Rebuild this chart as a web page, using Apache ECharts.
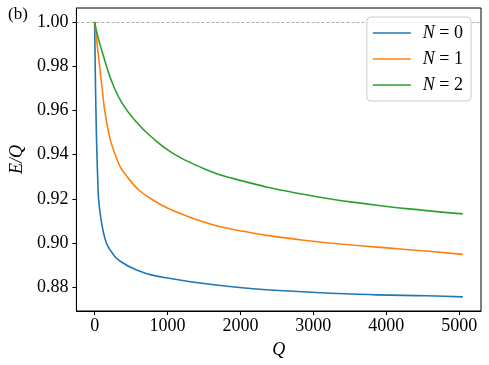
<!DOCTYPE html>
<html>
	<head>
		<meta charset="utf-8" />
		<title>E/Q</title>
		<script src="https://cdn.jsdelivr.net/npm/echarts@6/dist/echarts.min.js"></script>
		<style>
			html, body { margin: 0; padding: 0; background: #fff; }
			#main { width: 489px; height: 365px; }
		</style>
	</head>
	<body>
		<div id="main"></div>
		<script type="text/javascript">
			// values
			var q0 = [0, 8, 18, 31, 45, 59, 104, 140, 181, 240, 318, 568, 977, 1819, 2842, 3870, 4550, 5050];
			var v0 = [1.0, 0.980, 0.960, 0.9407, 0.927, 0.9181, 0.9076, 0.9023, 0.8986, 0.8956, 0.8926, 0.8880, 0.8843, 0.8805, 0.8780, 0.8766, 0.8762, 0.8757];
			var q1 = [0, 30, 65, 100, 159, 273, 477, 795, 1160, 1477, 1819, 2842, 3870, 4550, 5050];
			var v1 = [1.0, 0.991, 0.981, 0.9708, 0.9558, 0.9407, 0.9287, 0.9196, 0.9136, 0.9098, 0.9067, 0.9014, 0.8982, 0.8964, 0.8949];
			var q2 = [0, 45, 113, 168, 250, 377, 546, 772, 1068, 1477, 1819, 2842, 3870, 4550, 5050];
			var v2 = [1.0, 0.9932, 0.9855, 0.9795, 0.9718, 0.9633, 0.9558, 0.9482, 0.9407, 0.9340, 0.9299, 0.9222, 0.9171, 0.9147, 0.9132];
			var xTicks = [0, 1000, 2000, 3000, 4000, 5000];
			var yTicks = [0.88, 0.90, 0.92, 0.94, 0.96, 0.98, 1.00];
			var names = ['N=0', 'N=1', 'N=2'];
			var colors = ['#1f77b4', '#ff7f0e', '#2ca02c'];

			function pairs(q, v) {
				var out = [];
				for (var i = 0; i < q.length; i++) out.push([q[i], v[i]]);
				return out;
			}

			var font = 'Liberation Serif';
			var myChart = echarts.init(document.getElementById('main'));

			var series = [pairs(q0, v0), pairs(q1, v1), pairs(q2, v2)].map(function (d, i) {
				var s = {
					name: names[i],
					type: 'line',
					data: d,
					symbol: 'none',
					smooth: true,
					lineStyle: { color: colors[i], width: 1.6 },
					itemStyle: { color: colors[i] },
					z: 3
				};
				if (i == 0) {
					s.markLine = {
						silent: true,
						symbol: 'none',
						label: { show: false },
						lineStyle: { color: '#999', type: [3, 2], width: 0.8 },
						data: [{ yAxis: 1.0 }],
						z: 1
					};
				}
				return s;
			});

			var option = {
				animation: false,
				textStyle: { fontFamily: font },
				graphic: [{
					type: 'text', left: 8, top: 6,
					style: { text: '(b)', font: '17px "Liberation Serif"', fill: '#000' }
				}],
				grid: {
					left: 74, top: 8, right: 8, bottom: 54,
					show: true, borderColor: '#000', borderWidth: 1,
					backgroundColor: 'transparent'
				},
				legend: {
					orient: 'vertical',
					right: 18, top: 17,
					icon: 'rect',
					itemWidth: 38, itemHeight: 1.6, itemGap: 8,
					padding: [7, 8, 7, 6],
					borderColor: '#ccc', borderWidth: 1, borderRadius: 4,
					backgroundColor: 'rgba(255,255,255,0.8)',
					data: names,
					formatter: function (n) {
						return '{i|N}{n| = ' + n.split('=')[1] + '}';
					},
					textStyle: {
						rich: {
							i: { fontFamily: font, fontStyle: 'italic', fontSize: 18, color: '#000', padding: [0, 0, 0, 7] },
							n: { fontFamily: font, fontSize: 18, color: '#000' }
						}
					}
				},
				xAxis: {
					type: 'value',
					min: -250, max: 5300,
					name: 'Q',
					nameLocation: 'middle',
					nameGap: 30,
					nameTextStyle: { fontFamily: font, fontStyle: 'italic', fontSize: 18, color: '#000' },
					splitLine: { show: false },
					axisLine: { show: true, onZero: false, lineStyle: { color: '#000', width: 1 } },
					axisTick: { show: true, length: 4, customValues: xTicks, lineStyle: { color: '#000' } },
					axisLabel: {
						customValues: xTicks, margin: 6, fontFamily: font, fontSize: 18, color: '#000',
						formatter: function (v) { return String(v); }
					}
				},
				yAxis: {
					type: 'value',
					min: 0.8693, max: 1.0063,
					name: 'E/Q',
					nameLocation: 'middle',
					nameGap: 45,
					nameTextStyle: { fontFamily: font, fontStyle: 'italic', fontSize: 18, color: '#000' },
					splitLine: { show: false },
					axisLine: { show: true, onZero: false, lineStyle: { color: '#000', width: 1 } },
					axisTick: { show: true, length: 4, customValues: yTicks, lineStyle: { color: '#000' } },
					axisLabel: {
						customValues: yTicks, margin: 8, fontFamily: font, fontSize: 18, color: '#000',
						formatter: function (v) { return v.toFixed(2); }
					}
				},
				series: series
			};

			myChart.setOption(option);
		</script>
	</body>
</html>
